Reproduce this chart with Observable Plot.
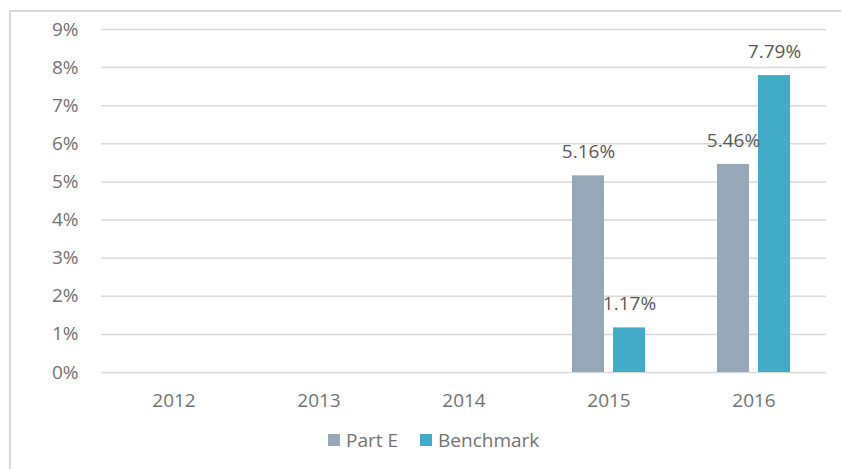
<!DOCTYPE html>
<html><head><meta charset="utf-8">
<script src="https://cdn.jsdelivr.net/npm/d3@7"></script>
<script src="https://cdn.jsdelivr.net/npm/@observablehq/plot@0.6"></script>
<style>
body{margin:0;width:841px;height:469px;overflow:hidden;background:#fff;font-family:"Open Sans",sans-serif;position:relative}
#frame{position:absolute;left:9px;top:10px;width:900px;height:500px;border-top:2px solid #d9d9d9;border-left:2px solid #d9d9d9}
#chart{position:absolute;left:0;top:0}
#legend{position:absolute;left:328px;top:427px;display:flex;align-items:center;font-size:19px;color:#737373;line-height:26px}
#legend .item{display:flex;align-items:center;margin-right:22px}
#legend .sw{width:12px;height:12px;margin-right:6px;display:inline-block}
</style></head><body>
<div id="frame"></div><div id="chart"></div><div id="legend"></div>
<script>
const years = ["2012", "2013", "2014", "2015", "2016"];
const series = ["Part E", "Benchmark"];
const partE = [null, null, null, 5.16, 5.46];
const benchmark = [null, null, null, 1.17, 7.79];
const colors = ["#97a9b8", "#41abc8"];
const yTicks = [0, 1, 2, 3, 4, 5, 6, 7, 8, 9];

const data = years.flatMap((yr, i) => [
  {year: yr, series: series[0], value: partE[i]},
  {year: yr, series: series[1], value: benchmark[i]}
]);

const chart = Plot.plot({
  width: 841, height: 469,
  marginLeft: 99, marginRight: 14, marginTop: 29, marginBottom: 97,
  style: {fontFamily: "Open Sans", fontSize: "19px", color: "#737373", background: "transparent"},
  fx: {domain: years, padding: 0, label: null, axis: "bottom", tickSize: 0, tickPadding: 21},
  x: {domain: series, paddingInner: 0.216, paddingOuter: 0.858, axis: null},
  y: {domain: [0, 9], ticks: yTicks, tickFormat: d => d + "%", label: null, tickSize: 0, tickPadding: 23},
  color: {domain: series, range: colors},
  marks: [
    Plot.gridY(yTicks, {stroke: "#d9d9d9", strokeOpacity: 1, strokeWidth: 1.5}),
    Plot.barY(data, {fx: "year", x: "series", y: "value", fill: "series"}),
    Plot.text(data, {fx: "year", x: "series", y: "value",
      text: d => d.value == null ? "" : d.value.toFixed(2) + "%",
      dy: -24, fill: "#595959", fontSize: 19})
  ]
});
document.getElementById("chart").appendChild(chart);

const legend = document.getElementById("legend");
series.forEach((s, i) => {
  const it = document.createElement("span");
  it.className = "item";
  const sw = document.createElement("span");
  sw.className = "sw";
  sw.style.background = colors[i];
  it.appendChild(sw);
  it.appendChild(document.createTextNode(s));
  legend.appendChild(it);
});
</script>
</body></html>
